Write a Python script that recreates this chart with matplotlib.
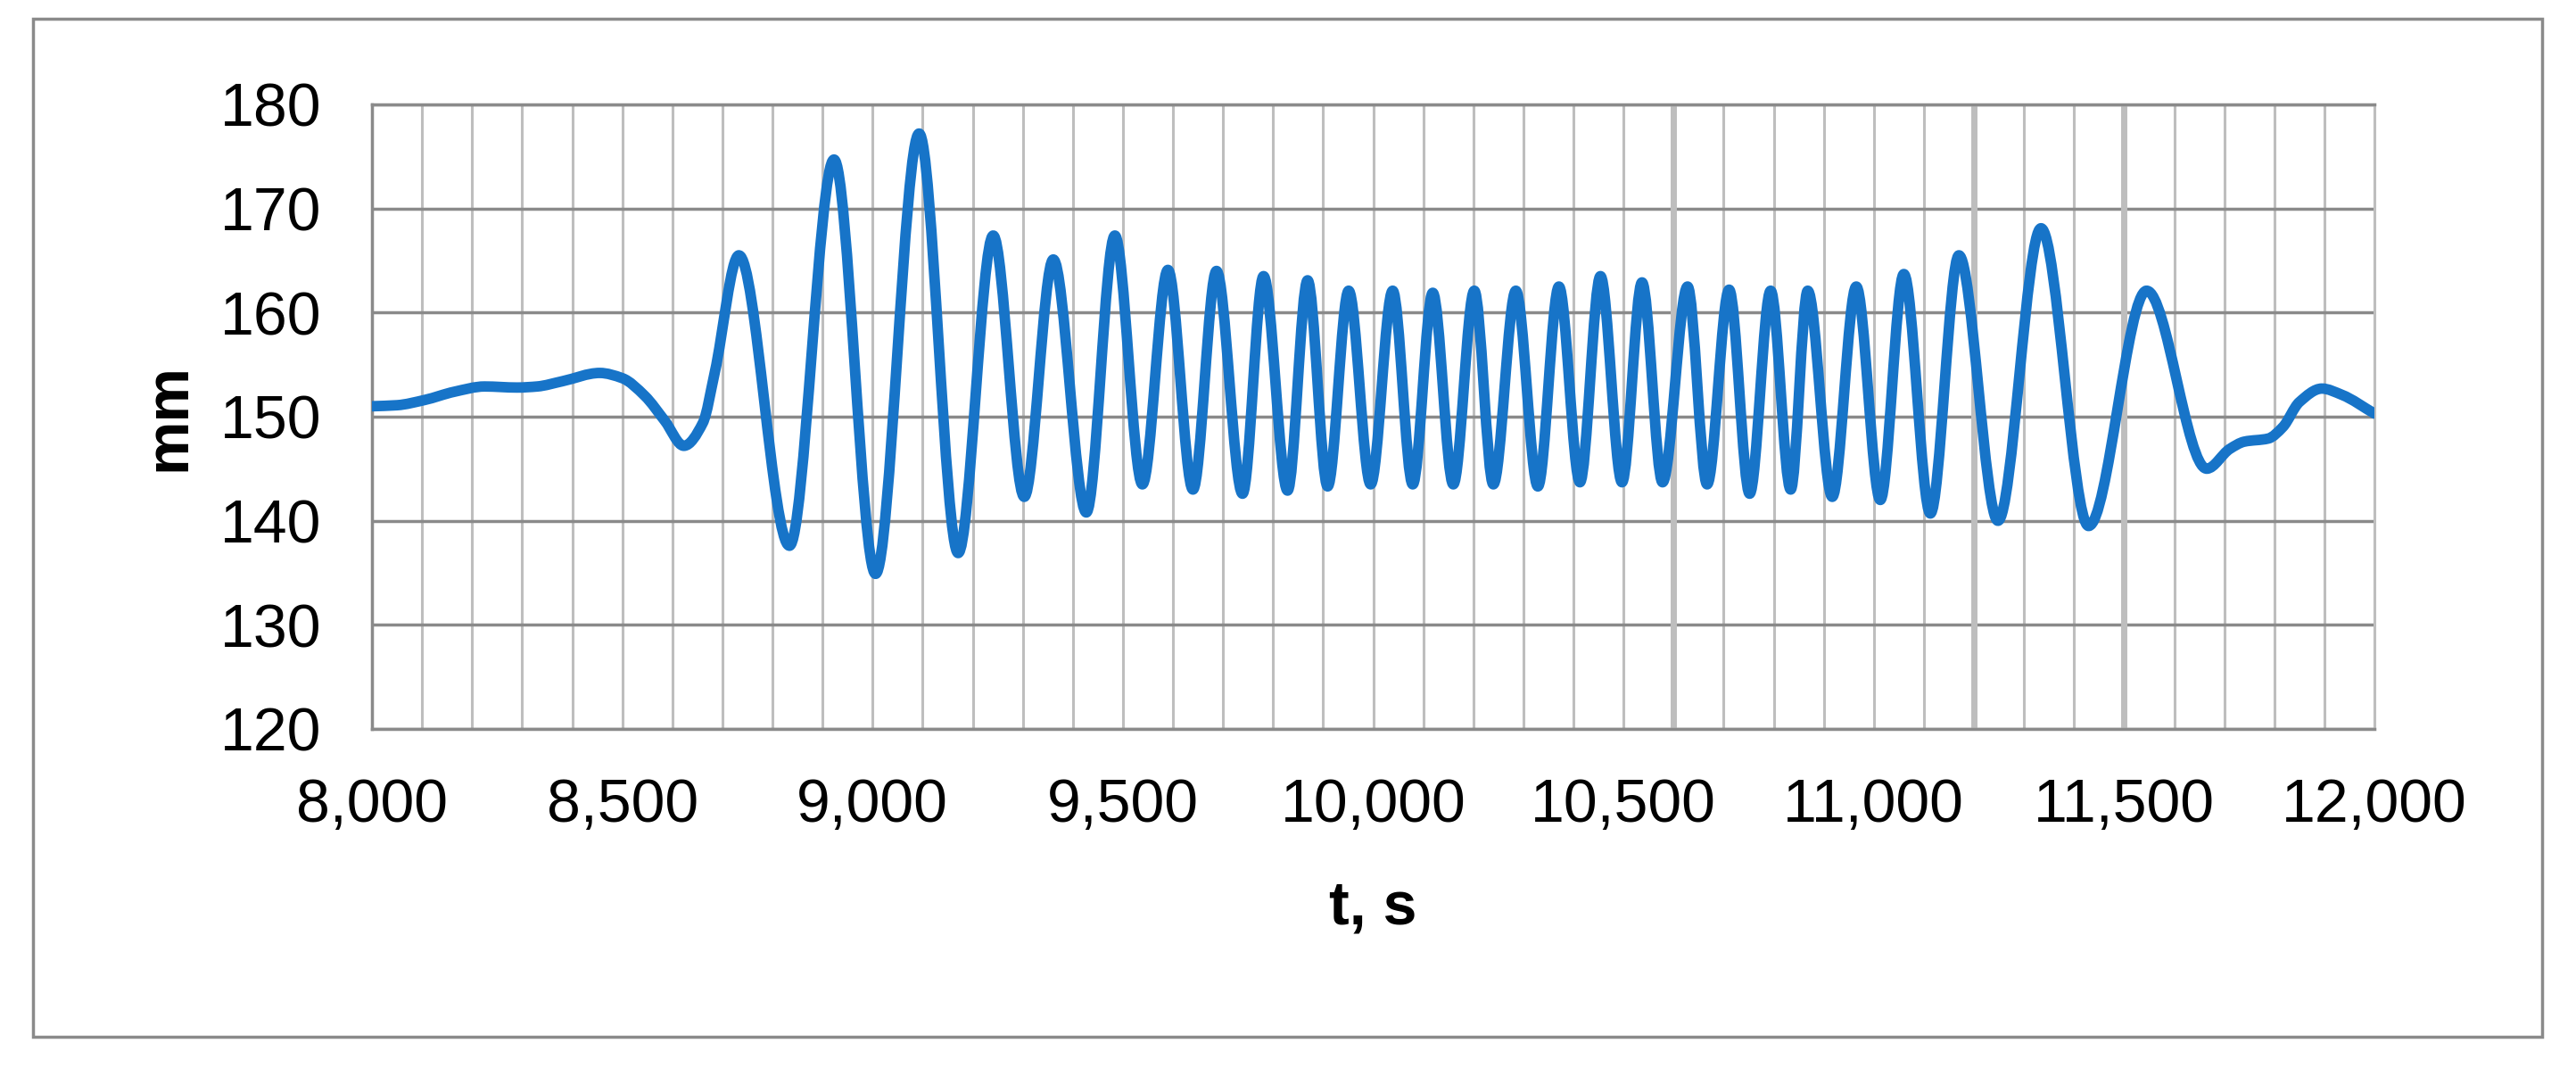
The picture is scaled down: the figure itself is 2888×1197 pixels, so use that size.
import numpy as np
import matplotlib
matplotlib.use("Agg")
import matplotlib.pyplot as plt
from matplotlib.path import Path
from matplotlib.patches import PathPatch, Rectangle

plt.rcParams["font.family"] = ["Liberation Sans", "DejaVu Sans"]

# ---------------------------------------------------------------------------
# data (time in s, displacement in mm)
# ---------------------------------------------------------------------------
t_s = [
    8000, 8050, 8105, 8165, 8225, 8290, 8330, 8380, 8455, 8500, 8545, 8585,
    8623, 8661, 8685, 8733, 8834, 8923, 9006, 9093, 9171, 9241, 9303, 9361,
    9427, 9484, 9539, 9590, 9640, 9687, 9739, 9781, 9829, 9869, 9909, 9951,
    9995, 10039, 10079, 10119, 10160, 10202, 10240, 10285, 10329, 10371,
    10413, 10454, 10497, 10537, 10578, 10628, 10667, 10711, 10752, 10794,
    10834, 10868, 10917, 10965, 11013, 11060, 11113, 11170, 11248, 11334,
    11429, 11545, 11665, 11711, 11740, 11788, 11817, 11850, 11895, 11935,
    12000,
]
disp_mm = [
    151.0, 151.1, 151.6, 152.4, 152.9, 152.8, 152.9, 153.4, 154.2, 153.7,
    152.0, 149.6, 147.2, 149.4, 154.3, 165.5, 137.6, 174.7, 134.9, 177.2,
    136.9, 167.4, 142.3, 165.1, 140.8, 167.4, 143.5, 164.1, 143.0, 164.0,
    142.6, 163.5, 142.9, 163.1, 143.3, 162.1, 143.5, 162.1, 143.5, 161.9,
    143.5, 162.1, 143.5, 162.1, 143.3, 162.5, 143.7, 163.5, 143.7, 162.9,
    143.7, 162.5, 143.5, 162.2, 142.6, 162.1, 143.0, 162.1, 142.3, 162.5,
    142.0, 163.7, 140.7, 165.5, 140.0, 168.1, 139.5, 162.1, 145.0, 146.9,
    147.6, 147.9, 149.0, 151.4, 152.7, 152.1, 150.3,
]

x_ticks = [8000, 8500, 9000, 9500, 10000, 10500, 11000, 11500, 12000]
x_tick_labels = ["8,000", "8,500", "9,000", "9,500", "10,000", "10,500",
                 "11,000", "11,500", "12,000"]
y_ticks = [120, 130, 140, 150, 160, 170, 180]
# vertical grid lines that render heavier in the source chart
heavy_grid_t = [10600, 11200, 11500]

LINE_COLOR = "#1774C8"
MAJOR_GRID = "#8A8A8A"
MINOR_GRID = "#BEBEBE"


def smooth_path(x, y):
    """Cubic Hermite (monotone) curve through the points, as a Bezier path."""
    x = np.asarray(x, float)
    y = np.asarray(y, float)
    h = np.diff(x)
    d = np.diff(y) / h
    m = np.zeros_like(y)
    for i in range(1, len(y) - 1):
        if d[i - 1] * d[i] > 0:
            w1 = 2 * h[i] + h[i - 1]
            w2 = h[i] + 2 * h[i - 1]
            m[i] = (w1 + w2) / (w1 / d[i - 1] + w2 / d[i])
    m[0], m[-1] = d[0], d[-1]
    verts = [(x[0], y[0])]
    codes = [Path.MOVETO]
    for i in range(len(x) - 1):
        verts += [
            (x[i] + h[i] / 3, y[i] + m[i] * h[i] / 3),
            (x[i + 1] - h[i] / 3, y[i + 1] - m[i + 1] * h[i] / 3),
            (x[i + 1], y[i + 1]),
        ]
        codes += [Path.CURVE4] * 3
    return Path(verts, codes)


fig = plt.figure(figsize=(28.88, 11.97), dpi=100)
ax = fig.add_axes([417 / 2888, 1 - 817 / 1197, 2245 / 2888, 700 / 1197])

ax.set_xlim(8000, 12000)
ax.set_ylim(120, 180)
ax.set_xticks(x_ticks)
ax.set_xticklabels(x_tick_labels)
ax.set_xticks(np.arange(8000, 12001, 100), minor=True)
ax.set_yticks(y_ticks)

ax.set_axisbelow(True)
ax.grid(which="both", axis="x", color=MINOR_GRID, lw=2.2)
ax.grid(which="major", axis="y", color=MAJOR_GRID, lw=2.5)
for t in heavy_grid_t:
    ax.axvline(t, color=MINOR_GRID, lw=5, zorder=1)

ax.add_patch(PathPatch(smooth_path(t_s, disp_mm), facecolor="none",
                       edgecolor=LINE_COLOR, lw=8.5, capstyle="round",
                       joinstyle="round", zorder=3))

for side in ("left", "bottom", "top"):
    ax.spines[side].set_color(MAJOR_GRID)
    ax.spines[side].set_linewidth(2.5)
ax.spines["right"].set_color(MINOR_GRID)
ax.spines["right"].set_linewidth(2.2)

ax.tick_params(which="both", length=0, labelsize=49, colors="black")
ax.tick_params(axis="x", pad=39)
ax.tick_params(axis="y", pad=41)

ax.set_xlabel("t, s", fontsize=49, fontweight="bold")
ax.xaxis.set_label_coords(0.5, -0.241)
ax.set_ylabel("mm", fontsize=49, fontweight="bold")
ax.yaxis.set_label_coords(-0.087, 0.5)

# outer chart-area frame
fig.patches.append(Rectangle((37 / 2888, 1 - 1162 / 1197), 2813 / 2888,
                             1141 / 1197, transform=fig.transFigure,
                             fill=False, edgecolor=MAJOR_GRID, lw=2.5))

fig.savefig("out.png", dpi=100)
plt.close(fig)
